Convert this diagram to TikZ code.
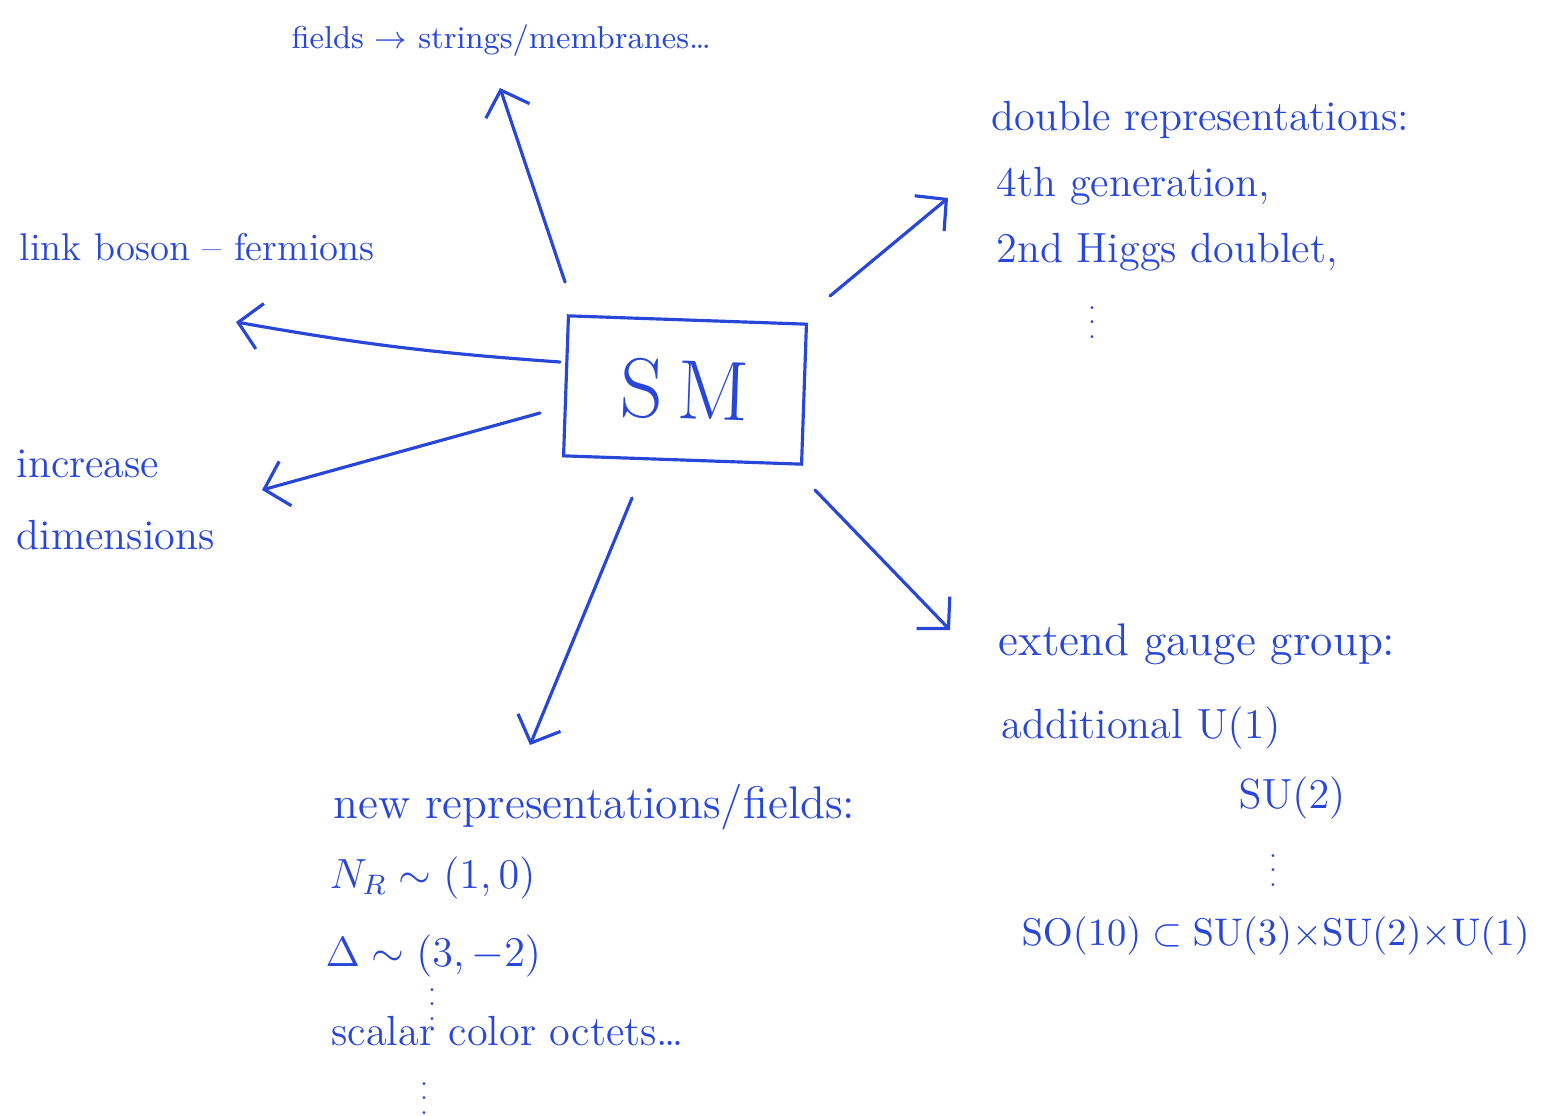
\documentclass[tikz,border=0pt]{standalone}
\usepackage{tikz}
\usetikzlibrary{arrows.meta,positioning}
\tikzset{>={Straight Barb[length=2.2mm,width=4.6mm]}}
\usepackage{amsmath}
\usepackage{xcolor}
\definecolor{pen}{RGB}{40,70,215}

\begin{document}
\begin{tikzpicture}
	[x=0.01cm, y=-0.01cm, pen, line width=0.9pt,
	node distance=1mm,
	idea/.style={inner sep=0pt, anchor=base west, font=\fontsize{12}{14}\selectfont},
	big idea/.style={idea, font=\fontsize{13}{15}\selectfont},
	small idea/.style={idea, font=\fontsize{9}{11}\selectfont},
	more/.style={inner sep=0pt, font=\fontsize{7}{8}\selectfont},
	model/.style={draw, rotate=-2, minimum width=2.38cm, minimum height=1.4cm, font=\fontsize{24}{28}\selectfont},
	branch/.style={->, line cap=round}]

	\useasboundingbox (0,0) rectangle (1546,1115);

	% centre
	\node[model] (sm) at (685,390) {S\,M};

	% branches
	\node[small idea] (fields)     at (290,48)   {fields $\to$ strings/membranes\dots};

	\node[idea]       (double)     at (990,130)  {double representations:};
	\node[idea]       (fourth)     at (995,196)  {4th generation,};
	\node[idea]       (higgs)      at (995,262)  {2nd Higgs doublet,};
	\node[more]       (double_dots) at (1092,312) {$\vdots$};

	\node[idea, font=\fontsize{11}{13}\selectfont] (link) at (18,260) {link boson -- fermions};
	\node[idea]       (increase)   at (15,477)   {increase};
	\node[idea]       (dimensions) [below=4mm of increase.south west, anchor=north west] {dimensions};

	\node[big idea]   (newrep)     at (332,818)  {new representations/fields:};
	\node[idea]       (neutrino)   at (328,888)  {$N_R\sim(1,0)$};
	\node[idea]       (delta)      at (324,966)  {$\Delta\sim(3,-2)$};
	\node[more]       (new_dots)   at (432,994)  {$\vdots$};
	\node[idea]       (octets)     at (330,1045) {scalar color octets\dots};
	\node[more]       (new_dots_b) at (424,1088) {$\vdots$};

	\node[big idea]   (extend)     at (997,655)  {extend gauge group:};
	\node[idea]       (additional) at (1000,738) {additional $\mathrm{U}(1)$};
	\node[idea]       (su_two)     at (1237,808) {$\mathrm{SU}(2)$};
	\node[more]       (gauge_dots) at (1273,860) {$\vdots$};
	\node[idea, font=\fontsize{10.5}{12}\selectfont] (so_ten) at (1020,945)
		{$\mathrm{SO}(10)\subset\mathrm{SU}(3){\times}\mathrm{SU}(2){\times}\mathrm{U}(1)$};

	% arrow ends
	\coordinate (sm_n)  at (565,282);  \coordinate (fields_tip)   at (500,88);
	\coordinate (sm_ne) at (830,296);  \coordinate (double_tip)   at (948,198);
	\coordinate (sm_w)  at (560,362);  \coordinate (link_tip)     at (236,322);
	\coordinate (sm_sw) at (540,413);  \coordinate (increase_tip) at (262,490);
	\coordinate (sm_s)  at (632,498);  \coordinate (newrep_tip)   at (530,745);
	\coordinate (sm_se) at (815,490);  \coordinate (extend_tip)   at (950,630);

	\draw [branch] (sm_n)  to (fields_tip);
	\draw [branch] (sm_ne) to (double_tip);
	\draw [branch] (sm_w)  to[bend left=3] (link_tip);
	\draw [branch] (sm_sw) to (increase_tip);
	\draw [branch] (sm_s)  to (newrep_tip);
	\draw [branch] (sm_se) to (extend_tip);
\end{tikzpicture}
\end{document}
